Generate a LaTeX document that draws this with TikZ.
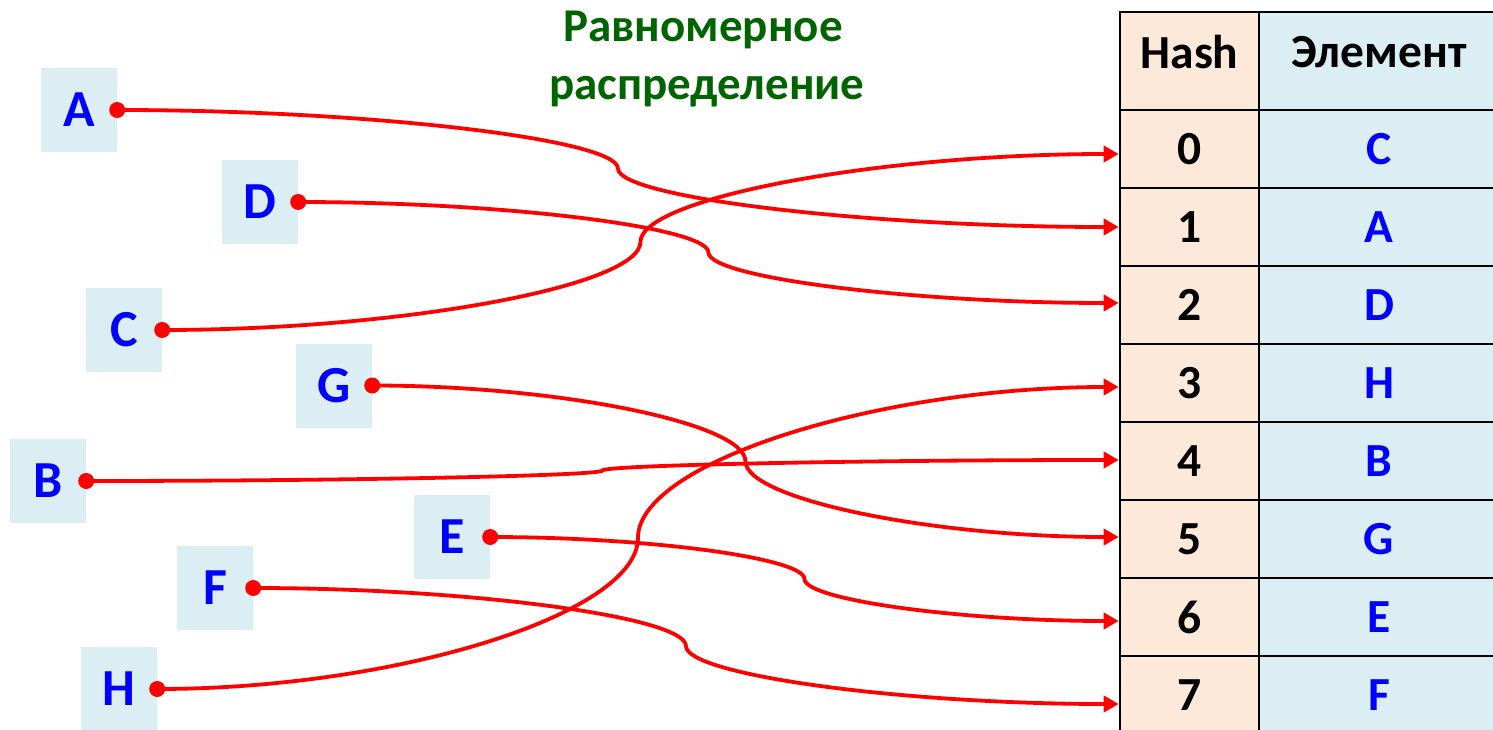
\documentclass[tikz,border=0pt]{standalone}
\usepackage{fontspec}
\setmainfont{Carlito}
\usetikzlibrary{arrows.meta,calc}
\definecolor{boxblue}{RGB}{218,238,243}
\definecolor{hashbg}{RGB}{253,233,217}
\definecolor{titlegreen}{RGB}{0,100,0}
\definecolor{letterblue}{RGB}{0,0,255}
\begin{document}
\begin{tikzpicture}[x=1pt,y=-1pt,
  item/.style={fill=boxblue, minimum width=76pt, minimum height=84pt, inner sep=0pt,
    text=letterblue, font=\fontsize{52}{60}\selectfont\bfseries},
  hcell/.style={draw=black, line width=2.6pt, fill=hashbg, minimum width=139pt,
    minimum height=78pt, inner sep=0pt, font=\fontsize{47.5}{55}\selectfont\bfseries},
  ecell/.style={hcell, fill=boxblue, minimum width=240pt, text=letterblue},
  headrow/.style={minimum height=98pt, text=black},
  titletext/.style={anchor=base, text=titlegreen, inner sep=0pt,
    font=\fontsize{47}{54}\selectfont\bfseries},
  link/.style={red, line width=3.8pt, -{Triangle[length=15pt,width=16pt]},
    to path={let \p1=(\tikztostart), \p2=(\tikztotarget) in
      .. controls ({(3*\x1+\x2)/4},{\y1}) and ({(\x1+\x2)/2},{(3*\y1+\y2)/4})
      .. ({(\x1+\x2)/2},{(\y1+\y2)/2})
      .. controls ({(\x1+\x2)/2},{(\y1+3*\y2)/4}) and ({(\x1+3*\x2)/4},{\y2})
      .. (\p2)}},
  reddot/.style={fill=red}
]
\useasboundingbox (0,0) rectangle (1493,730);

% items
\node[item] (A) at (79,110) {A};
\node[item] (D) at (260,202) {D};
\node[item] (C) at (124,330) {C};
\node[item] (G) at (334,385.5) {G};
\node[item] (B) at (48,481) {B};
\node[item] (E) at (452,537) {E};
\node[item] (F) at (215,588) {F};
\node[item] (H) at (119,689) {H};

% table
\begin{scope}
\clip (1100,0) rectangle (1493,730);
\node[hcell, headrow] (hh) at (1189.5,61) {\raisebox{9pt}[\height][\depth]{Hash}};
\node[ecell, headrow] (eh) at (1379,61) {\raisebox{9pt}[\height][\depth]{Элемент}};
\foreach \k/\v in {0/C,1/A,2/D,3/H,4/B,5/G,6/E,7/F}{
  \node[hcell] (h\k) at (1189.5,{149+78*\k}) {\k};
  \node[ecell] (e\k) at (1379,{149+78*\k}) {\v};
}
\end{scope}

% connectors
\draw[link] (A.east) to (h1.west);
\draw[link] (D.east) to ([yshift=2pt]h2.west);
\draw[link] (C.east) to ([yshift=-5pt]h0.west);
\draw[link] (G.east) to ([yshift=2pt]h5.west);
\draw[link] (B.east) to ([yshift=1pt]h4.west);
\draw[link] (E.east) to ([yshift=-4pt]h6.west);
\draw[link] (F.east) to ([yshift=-9pt]h7.west);
\draw[link] (H.east) to ([yshift=-4pt]h3.west);

\foreach \n in {A,B,C,D,E,F,G,H}{
  \fill[reddot] (\n.east) circle (8pt);
}

% title
\node[titletext] (t1) at (703,42) {Равномерное};
\node[titletext] (t2) at (707,100) {распределение};
\end{tikzpicture}
\end{document}
